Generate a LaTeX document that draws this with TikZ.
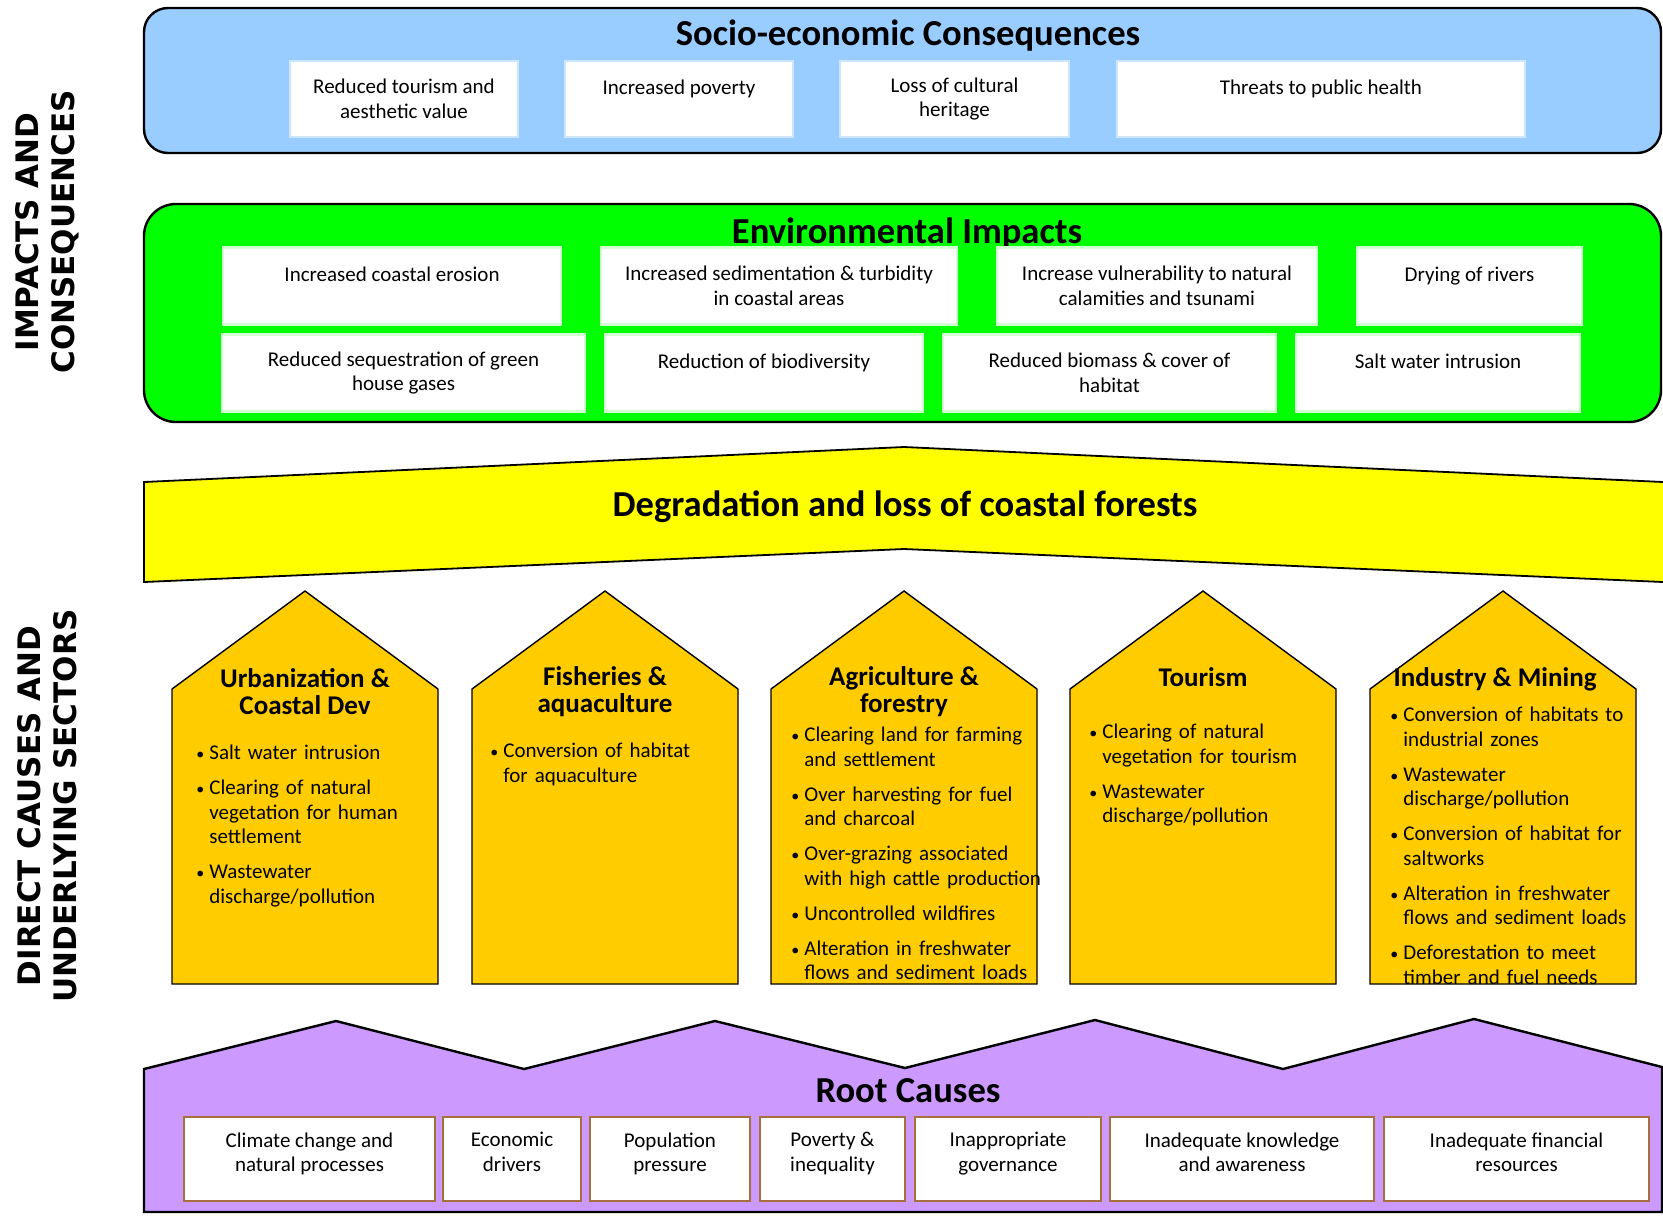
\documentclass[tikz,border=0pt]{standalone}
\usepackage{fontspec}
\setmainfont{Carlito}
\newfontfamily\sidefont{DejaVu Sans}

\definecolor{socioblue}{HTML}{99CCFF}
\definecolor{socioline}{HTML}{CCE6FF}
\definecolor{envgreen}{HTML}{00FF00}
\definecolor{envline}{HTML}{D2FFD2}
\definecolor{forestyellow}{HTML}{FFFF00}
\definecolor{sectorgold}{HTML}{FFCC00}
\definecolor{rootlilac}{HTML}{CC99FF}
\definecolor{rootbrown}{HTML}{A66F3D}

\newcommand{\cellfont}{\fontsize{10.5}{12.25}\selectfont}
\newcommand{\bitem}[1]{\par\noindent\hangindent=6.5pt\hangafter=1\strut\makebox[6.5pt][l]{\fontsize{8}{8}\selectfont\textbullet}#1\strut\par\vspace{5.25pt}}

\tikzset{
  panel/.style={draw=black, line width=1.2pt},
  cell/.style={fill=white, line width=1.2pt, align=center, inner sep=1pt, font=\cellfont},
  socell/.style={cell, draw=socioline, minimum height=38pt},
  envcell/.style={cell, draw=envline, minimum height=38.5pt},
  rootcell/.style={cell, draw=rootbrown, minimum height=42pt, text depth=7pt},
  oneline/.style={text depth=12pt},
  head/.style={anchor=base, font=\fontsize{18.3}{21}\selectfont\bfseries},
  side/.style={rotate=90, align=center, font=\sidefont\bfseries\fontsize{15.5}{18}\selectfont},
  house/.style={draw=black, line width=0.7pt, fill=sectorgold},
  sectortitle/.style={align=center, inner sep=0pt, font=\fontsize{13.5}{13.5}\selectfont\bfseries},
  bullets/.style={anchor=north west, inner sep=0pt, text width=130pt, align=left, font=\cellfont}
}

\begin{document}
\begin{tikzpicture}[x=0.5pt, y=-0.5pt]
\useasboundingbox (0,0) rectangle (1663,1216);

% side labels
\node[side] (impacts) at (47,232) {IMPACTS AND\\CONSEQUENCES};
\node[side] (causes) at (47,806) {DIRECT CAUSES AND\\UNDERLYING SECTORS};

% socio-economic consequences
\draw[panel, fill=socioblue, rounded corners=12pt] (144,8) rectangle (1661,153);
\node[head] (socio) at (908,45) {Socio-economic Consequences};
\foreach \n/\xa/\xb/\txt in {s1/290/518/{Reduced tourism and\\aesthetic value},
                              s3/840/1069/{Loss of cultural\\heritage}}
  \node[socell, minimum width={(\xb-\xa)*0.5pt}] (\n) at ({(\xa+\xb)/2},99) {\txt};
\foreach \n/\xa/\xb/\txt in {s2/565/793/{Increased poverty},
                              s4/1117/1525/{Threats to public health}}
  \node[socell, oneline, minimum width={(\xb-\xa)*0.5pt}] (\n) at ({(\xa+\xb)/2},99) {\txt};

% environmental impacts
\draw[panel, fill=envgreen, rounded corners=16pt] (144,204) rectangle (1661,422);
\node[head] (env) at (907,243) {Environmental Impacts};
\foreach \n/\xa/\xb/\y/\txt in {e2/601/957/286/{Increased sedimentation \& turbidity\\in coastal areas},
                                 e3/997/1317/286/{Increase vulnerability to natural\\calamities and tsunami},
                                 e5/222/585/373/{Reduced sequestration of green\\house gases},
                                 e7/943/1276/373/{Reduced biomass \& cover of\\habitat}}
  \node[envcell, minimum width={(\xb-\xa)*0.5pt}] (\n) at ({(\xa+\xb)/2},\y) {\txt};
\foreach \n/\xa/\xb/\y/\txt in {e1/223/561/286/{Increased coastal erosion},
                                 e4/1357/1582/286/{Drying of rivers},
                                 e6/605/923/373/{Reduction of biodiversity},
                                 e8/1296/1580/373/{Salt water intrusion}}
  \node[envcell, oneline, minimum width={(\xb-\xa)*0.5pt}] (\n) at ({(\xa+\xb)/2},\y) {\txt};

% degradation band
\fill[forestyellow] (144,482) -- (904,447) -- (1663,482) -- (1663,582) -- (904,549) -- (144,582) -- cycle;
\draw[line width=0.9pt] (1663,482) -- (904,447) -- (144,482) -- (144,582) -- (904,549) -- (1663,582);
\node[head] (forest) at (905,516) {Degradation and loss of coastal forests};

% sectors
\foreach \cx in {305,605,904,1203,1503}
  \draw[house] ({\cx-133},689) -- (\cx,591) -- ({\cx+133},689) -- ({\cx+133},984) -- ({\cx-133},984) -- cycle;

\node[sectortitle] (urban) at (305,692) {Urbanization \&\\Coastal Dev};
\node[sectortitle] (fish) at (605,692) {Fisheries \&\\aquaculture};
\node[sectortitle] (agri) at (904,692) {Agriculture \&\\forestry};
\node[sectortitle, anchor=base] (tour) at (1203,686) {Tourism};
\node[sectortitle, anchor=base] (indus) at (1495,686) {Industry \& Mining};

\node[bullets] (urbanlist) at (196,735) {\bitem{Salt water intrusion}
  \bitem{Clearing of natural\newline vegetation for human\newline settlement}
  \bitem{Wastewater\newline discharge/pollution}};
\node[bullets] (fishlist) at (490,733) {\bitem{Conversion of habitat\newline for aquaculture}};
\node[bullets] (agrilist) at (791,717) {\bitem{Clearing land for farming\newline and settlement}
  \bitem{Over harvesting for fuel\newline and charcoal}
  \bitem{Over-grazing associated\newline with high cattle production}
  \bitem{Uncontrolled wildfires}
  \bitem{Alteration in freshwater\newline flows and sediment loads}};
\node[bullets] (tourlist) at (1089,714) {\bitem{Clearing of natural\newline vegetation for tourism}
  \bitem{Wastewater\newline discharge/pollution}};
\node[bullets] (induslist) at (1390,697) {\bitem{Conversion of habitats to\newline industrial zones}
  \bitem{Wastewater\newline discharge/pollution}
  \bitem{Conversion of habitat for\newline saltworks}
  \bitem{Alteration in freshwater\newline flows and sediment loads}
  \bitem{Deforestation to meet\newline timber and fuel needs}};

% root causes
\draw[panel, fill=rootlilac] (144,1069)
  \foreach \x/\y in {336/1021,524/1069,715/1021,905/1068,1095/1020,1283/1069,1474/1019,1662/1067} { -- (\x,\y) }
  -- (1662,1212) -- (144,1212) -- cycle;
\node[head] (root) at (908,1102) {Root Causes};
\foreach \n/\xa/\xb/\txt in {r1/184/435/{Climate change and\\natural processes},
                              r2/443/581/{Economic\\drivers},
                              r3/590/750/{Population\\pressure},
                              r4/760/905/{Poverty \&\\inequality},
                              r5/915/1101/{Inappropriate\\governance},
                              r6/1110/1374/{Inadequate knowledge\\and awareness},
                              r7/1384/1649/{Inadequate financial\\resources}}
  \node[rootcell, minimum width={(\xb-\xa)*0.5pt}] (\n) at ({(\xa+\xb)/2},1159) {\txt};
\end{tikzpicture}
\end{document}
